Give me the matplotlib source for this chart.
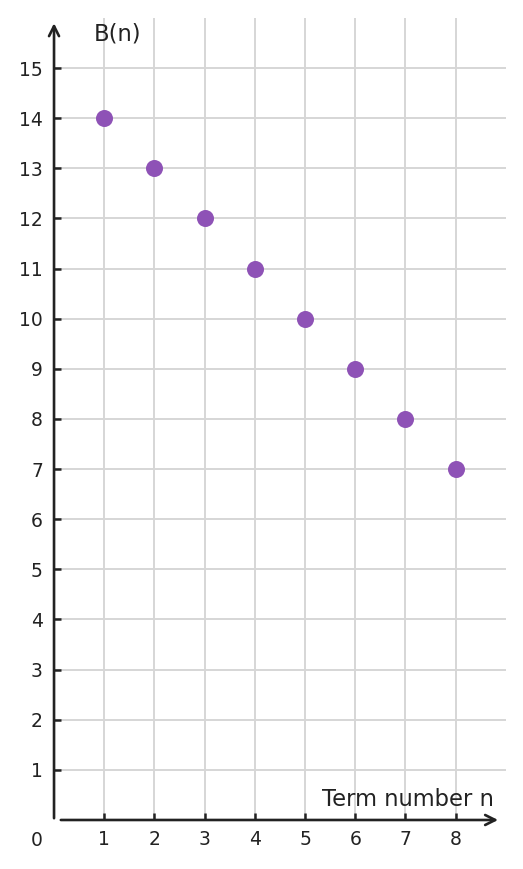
import matplotlib
matplotlib.use("Agg")
import matplotlib.pyplot as plt

# sequence values
term_n = [1, 2, 3, 4, 5, 6, 7, 8]
b_values = [14, 13, 12, 11, 10, 9, 8, 7]
x_ticks = [1, 2, 3, 4, 5, 6, 7, 8]
y_ticks = list(range(1, 16))

axis_col = '#222222'
grid_col = '#d6d6d6'
dot_col = '#8e52b6'

fig = plt.figure(figsize=(5.23, 8.69), dpi=100)
ax = fig.add_axes([0.1033, 0.0564, 0.864, 0.923])
ax.set_xlim(0, 9)
ax.set_ylim(0, 16)
for s in ax.spines.values():
    s.set_visible(False)

# grid
for x in x_ticks:
    ax.plot([x, x], [0, 16], color=grid_col, lw=1.4, zorder=1)
for y in y_ticks:
    ax.plot([0, 9], [y, y], color=grid_col, lw=1.4, zorder=1)

# axes with arrows
ax.annotate('', xy=(0, 15.95), xytext=(0, -0.02),
            arrowprops=dict(arrowstyle='->', color=axis_col, lw=1.9,
                            mutation_scale=18), zorder=3)
ax.annotate('', xy=(8.9, 0), xytext=(0.08, 0),
            arrowprops=dict(arrowstyle='->', color=axis_col, lw=1.9,
                            mutation_scale=18), zorder=3)

ax.set_xticks(x_ticks)
ax.set_yticks(y_ticks)
ax.tick_params(direction='in', length=5, width=1.8, color=axis_col,
               labelsize=13.5, labelcolor=axis_col)
ax.tick_params(axis='x', pad=7.5)
ax.tick_params(axis='y', pad=8)
ax.text(-0.34, -0.4, '0', ha='center', va='center', fontsize=13.5, color=axis_col)

ax.scatter(term_n, b_values, s=150, color=dot_col, zorder=4, linewidths=0)

ax.text(0.8, 15.67, 'B(n)', ha='left', va='center', fontsize=16.3, color=axis_col)
ax.text(8.76, 0.4, 'Term number n', ha='right', va='center', fontsize=16.3, color=axis_col)

fig.savefig('out.png', dpi=100)
